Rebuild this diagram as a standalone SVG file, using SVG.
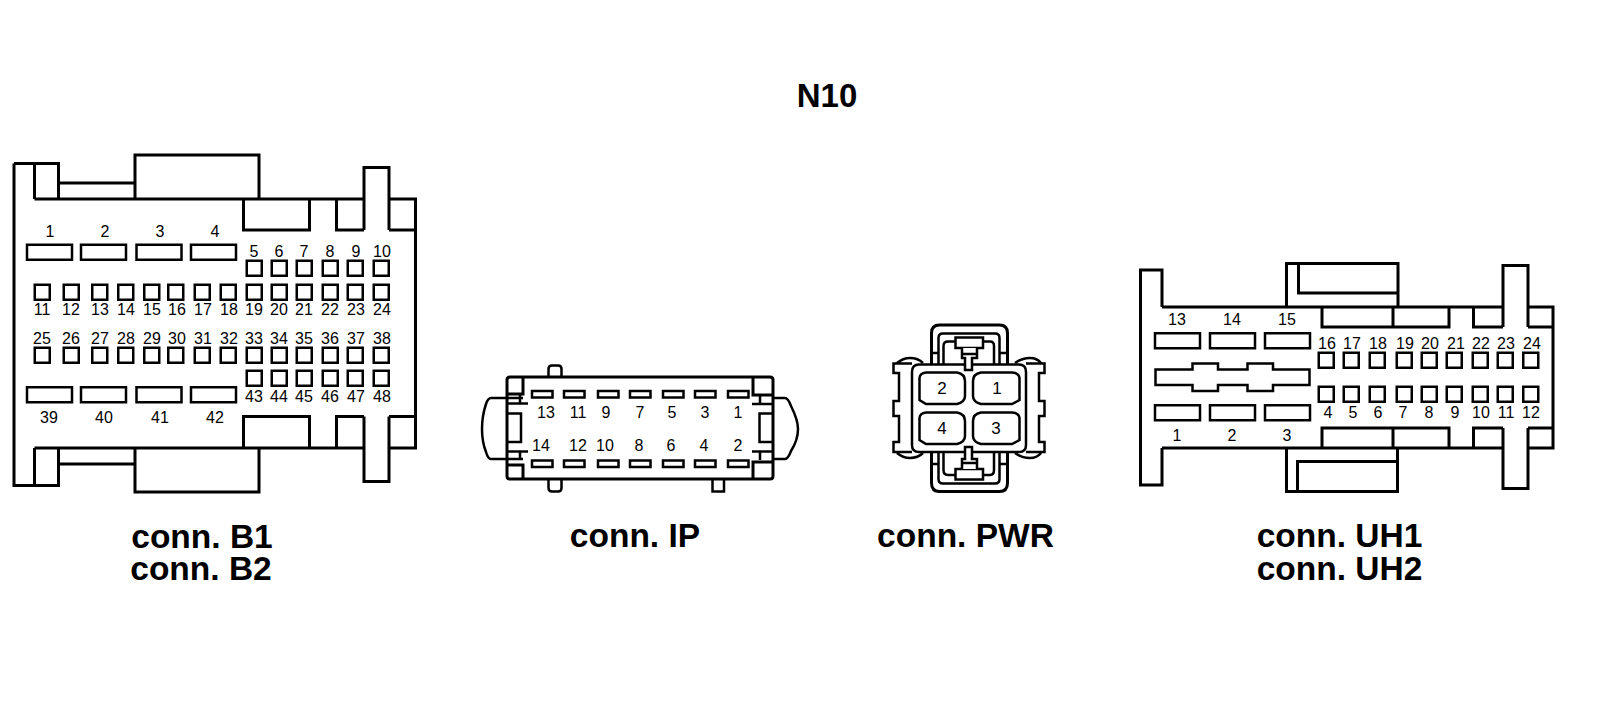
<svg xmlns="http://www.w3.org/2000/svg" width="1600" height="710" viewBox="0 0 1600 710">
<style>
.l{fill:none;stroke:#000;stroke-width:3}
.t{fill:none;stroke:#000;stroke-width:2.5}
.w{fill:#fff;stroke:#000;stroke-width:2.500}
.n{font-family:"Liberation Sans",Arial,sans-serif;font-size:16px;fill:#000;text-anchor:middle}
.c{font-family:"Liberation Sans",Arial,sans-serif;font-size:33.500px;font-weight:bold;fill:#000;text-anchor:middle}
.p{font-family:"Liberation Sans",Arial,sans-serif;font-size:17px;fill:#000;text-anchor:middle}
</style>
<defs>
<rect id="big" x="-0.500" y="-0.250" width="45" height="15" class="w"/>
<rect id="sq" x="-0.750" y="-0.750" width="15" height="15" class="w"/>
<rect id="ip" width="20.500" height="6.500" class="w"/>
</defs>
<rect width="1600" height="710" fill="#fff"/>
<g id="title"><text class="c" x="827" y="107" style="font-size:33px">N10</text></g>

<g id="conn-b">
<path class="l" d="M34.500 199V163.500M14 163.500H58.500V199M14 163.500V485.500H58.500V448M34.500 485.500V448M58.500 183H135M135 199V155H259V199M34.500 199H364M389 199H415.500V448H389M34.500 448H364M243.500 199V230H309.500V199M336.500 199V230H364M389 230H415.500M364 230V167.500H389V230M243.500 448V416.500H309.500V448M336.500 448V416.500H364M389 416.500H415.500M364 416.500V481.500H389V416.500M58.500 464H135M135 448V492H259V448"/>
<use href="#big" x="27.500" y="245"/><use href="#big" x="81.500" y="245"/><use href="#big" x="137" y="245"/><use href="#big" x="191.500" y="245"/>
<use href="#big" x="27.500" y="387.500"/><use href="#big" x="81.500" y="387.500"/><use href="#big" x="137" y="387.500"/><use href="#big" x="191.500" y="387.500"/>
<use href="#sq" x="247.500" y="261.500"/><use href="#sq" x="272.500" y="261.500"/><use href="#sq" x="297.500" y="261.500"/><use href="#sq" x="323.500" y="261.500"/><use href="#sq" x="348.500" y="261.500"/><use href="#sq" x="374.500" y="261.500"/>
<use href="#sq" x="35.500" y="285.500"/><use href="#sq" x="64.500" y="285.500"/><use href="#sq" x="93" y="285.500"/><use href="#sq" x="119" y="285.500"/><use href="#sq" x="145" y="285.500"/><use href="#sq" x="169" y="285.500"/><use href="#sq" x="195.500" y="285.500"/><use href="#sq" x="221.500" y="285.500"/><use href="#sq" x="247.500" y="285.500"/><use href="#sq" x="272.500" y="285.500"/><use href="#sq" x="297.500" y="285.500"/><use href="#sq" x="323.500" y="285.500"/><use href="#sq" x="348.500" y="285.500"/><use href="#sq" x="374.500" y="285.500"/>
<use href="#sq" x="35.500" y="348.500"/><use href="#sq" x="64.500" y="348.500"/><use href="#sq" x="93" y="348.500"/><use href="#sq" x="119" y="348.500"/><use href="#sq" x="145" y="348.500"/><use href="#sq" x="169" y="348.500"/><use href="#sq" x="195.500" y="348.500"/><use href="#sq" x="221.500" y="348.500"/><use href="#sq" x="247.500" y="348.500"/><use href="#sq" x="272.500" y="348.500"/><use href="#sq" x="297.500" y="348.500"/><use href="#sq" x="323.500" y="348.500"/><use href="#sq" x="348.500" y="348.500"/><use href="#sq" x="374.500" y="348.500"/>
<use href="#sq" x="247.500" y="371.500"/><use href="#sq" x="272.500" y="371.500"/><use href="#sq" x="297.500" y="371.500"/><use href="#sq" x="323.500" y="371.500"/><use href="#sq" x="348.500" y="371.500"/><use href="#sq" x="374.500" y="371.500"/>
<text class="n" x="50" y="236.500">1</text><text class="n" x="105" y="236.500">2</text><text class="n" x="160" y="236.500">3</text><text class="n" x="215" y="236.500">4</text>
<text class="n" x="254" y="256.500">5</text><text class="n" x="279" y="256.500">6</text><text class="n" x="304" y="256.500">7</text><text class="n" x="330" y="256.500">8</text><text class="n" x="356" y="256.500">9</text><text class="n" x="382" y="256.500">10</text>
<text class="n" x="42" y="314.500">11</text><text class="n" x="71" y="314.500">12</text><text class="n" x="100" y="314.500">13</text><text class="n" x="126" y="314.500">14</text><text class="n" x="152" y="314.500">15</text><text class="n" x="177" y="314.500">16</text><text class="n" x="203" y="314.500">17</text><text class="n" x="229" y="314.500">18</text><text class="n" x="254" y="314.500">19</text><text class="n" x="279" y="314.500">20</text><text class="n" x="304" y="314.500">21</text><text class="n" x="330" y="314.500">22</text><text class="n" x="356" y="314.500">23</text><text class="n" x="382" y="314.500">24</text>
<text class="n" x="42" y="343.500">25</text><text class="n" x="71" y="343.500">26</text><text class="n" x="100" y="343.500">27</text><text class="n" x="126" y="343.500">28</text><text class="n" x="152" y="343.500">29</text><text class="n" x="177" y="343.500">30</text><text class="n" x="203" y="343.500">31</text><text class="n" x="229" y="343.500">32</text><text class="n" x="254" y="343.500">33</text><text class="n" x="279" y="343.500">34</text><text class="n" x="304" y="343.500">35</text><text class="n" x="330" y="343.500">36</text><text class="n" x="356" y="343.500">37</text><text class="n" x="382" y="343.500">38</text>
<text class="n" x="49" y="422.500">39</text><text class="n" x="104" y="422.500">40</text><text class="n" x="160" y="422.500">41</text><text class="n" x="215" y="422.500">42</text>
<text class="n" x="254" y="401.500">43</text><text class="n" x="279" y="401.500">44</text><text class="n" x="304" y="401.500">45</text><text class="n" x="330" y="401.500">46</text><text class="n" x="356" y="401.500">47</text><text class="n" x="382" y="401.500">48</text>
<text class="c" x="202" y="548">conn. B1</text><text class="c" x="201" y="580">conn. B2</text>
</g>

<g id="conn-ip">
<path class="l" d="M510 377H770Q773 377 773 380V476Q773 479 770 479H510Q507 479 507 476V465H523V479M523 377V394H507V380Q507 377 510 377M507 394V465M753 377V395H773M753 479V462H773"/>
<path class="t" d="M548.500 377V369Q548.500 365.500 552 365.500H558Q561.500 365.500 561.500 369V377M548.500 479V488Q548.500 491.500 552 491.500H558Q561.500 491.500 561.500 488V479M712.500 479V491.500H724V479"/>
<path class="t" d="M507 403.500H528M520 394V403.500M507 413.500H521V442H507M507 451.500H528M520 451.500V459.500M523 398H491Q488 398 486 404Q482 416 482 429Q482 442 486 452Q488 459 491 459H523"/>
<path class="t" d="M752 404H772M760 395V404M773 413.500H759.500V442H773M752 451.500H772M760 451.500V460M773 398H785Q788 398 791 406Q798 420 798 429Q798 440 791 451Q788 459 785 459H773"/>
<use href="#ip" x="532" y="391"/><use href="#ip" x="564" y="391"/><use href="#ip" x="598" y="391"/><use href="#ip" x="630" y="391"/><use href="#ip" x="663" y="391"/><use href="#ip" x="695" y="391"/><use href="#ip" x="728" y="391"/>
<use href="#ip" x="532" y="460.500"/><use href="#ip" x="564" y="460.500"/><use href="#ip" x="598" y="460.500"/><use href="#ip" x="630" y="460.500"/><use href="#ip" x="663" y="460.500"/><use href="#ip" x="695" y="460.500"/><use href="#ip" x="728" y="460.500"/>
<text class="n" x="546" y="418">13</text><text class="n" x="578" y="418">11</text><text class="n" x="606" y="418">9</text><text class="n" x="640" y="418">7</text><text class="n" x="672" y="418">5</text><text class="n" x="705" y="418">3</text><text class="n" x="738" y="418">1</text>
<text class="n" x="541" y="451">14</text><text class="n" x="578" y="451">12</text><text class="n" x="605" y="451">10</text><text class="n" x="639" y="451">8</text><text class="n" x="671" y="451">6</text><text class="n" x="704" y="451">4</text><text class="n" x="738" y="451">2</text>
<text class="c" x="635" y="547">conn. IP</text>
</g>

<g id="conn-pwr">
<path class="l" d="M931.500 365V333Q931.500 325 939.500 325H999.500Q1007.500 325 1007.500 333V365M931.500 452V483Q931.500 491.500 939.500 491.500H999.500Q1007.500 491.500 1007.500 483V452"/>
<path class="t" d="M938.500 365V338Q938.500 333.500 943 333.500H995Q999.500 333.500 999.500 338V365M938.500 452V479Q938.500 483.500 943 483.500H995Q999.500 483.500 999.500 479V452M943.500 365V346Q943.500 341.500 948 341.500H990Q994 341.500 994 346V365M943.500 452V470Q943.500 475 948 475H990Q994 475 994 470V452M931.500 353H938.500M999.500 353H1007.500M931.500 464H938.500M999.500 464H1007.500"/>
<rect class="w" x="955.500" y="337.500" width="27.500" height="10.500"/><rect class="w" x="955.500" y="469" width="27.500" height="10.500"/>
<path class="t" d="M912 445V372Q912 364.500 919 364.500H1019Q1026 364.500 1026 372V445Q1026 452 1019 452H919Q912 452 912 445Z"/>
<path class="w" d="M962 348V358H965V370H972V358H977V348M962 354H977M962 469V459H965V447H972V459H977V469M962 463H977"/>
<path class="t" d="M912 363.500H893.500V373H899V401H893.500V416H899V442H893.500V452H912M1026 363.500H1044.500V373H1039V401H1044.500V416H1039V442H1044.500V452H1026M897 363Q903 358 910 358Q918 358 923 363M1015 363Q1022 358 1030 358Q1037 358 1041 363M897 453Q903 458 910 458Q918 458 923 453M1015 453Q1022 458 1030 458Q1037 458 1041 453"/>
<path class="t" d="M926 372.500H957Q965 374 965 381V396Q965 402 957 404H926L919.500 400V378Q920 373 926 372.500ZM981 372.500H1012Q1019 373 1019.500 378V400L1012 404H981Q973 402 973 396V381Q973 374 981 372.500ZM926 412.500H957Q965 414 965 421V436Q965 442 957 444H926L919.500 440V418Q920 413 926 412.500ZM981 412.500H1012Q1019 413 1019.500 418V440L1012 444H981Q973 442 973 436V421Q973 414 981 412.500Z"/>
<text class="p" x="942" y="394">2</text><text class="p" x="997" y="394">1</text><text class="p" x="942" y="434">4</text><text class="p" x="996" y="434">3</text>
<text class="c" x="965.500" y="547">conn. PWR</text>
</g>

<g id="conn-uh">
<path class="l" d="M1162 307V270H1140.500V485H1162V448M1162 307H1503M1528 307H1553V448H1528M1162 448H1503M1503 327V265.500H1528V327M1503 428V488.500H1528V428M1322 307V327H1449V307M1393 307V327M1473.500 307V327H1503M1528 327H1553M1322 448V428H1449V448M1393 428V448M1473.500 448V428H1503M1528 428H1553M1286.500 307V263.500H1398V307M1298.500 263.500V293H1398M1286.500 448V491.500H1397.500V448M1297.500 491.500V461.500H1397.500"/>
<use href="#big" x="1155.500" y="333.500"/><use href="#big" x="1210.500" y="333.500"/><use href="#big" x="1265.500" y="333.500"/>
<use href="#big" x="1155.500" y="405.500"/><use href="#big" x="1210.500" y="405.500"/><use href="#big" x="1265.500" y="405.500"/>
<path class="w" d="M1155.500 369.500H1192.500V363.500H1218V369.500H1247.500V363.500H1273V369.500H1309.500V385H1273V391H1247.500V385H1218V391H1192.500V385H1155.500Z"/>
<use href="#sq" x="1319.500" y="353.500"/><use href="#sq" x="1344.500" y="353.500"/><use href="#sq" x="1370.500" y="353.500"/><use href="#sq" x="1397.500" y="353.500"/><use href="#sq" x="1422.500" y="353.500"/><use href="#sq" x="1447.500" y="353.500"/><use href="#sq" x="1473.500" y="353.500"/><use href="#sq" x="1498.500" y="353.500"/><use href="#sq" x="1524" y="353.500"/>
<use href="#sq" x="1319.500" y="387.500"/><use href="#sq" x="1344.500" y="387.500"/><use href="#sq" x="1370.500" y="387.500"/><use href="#sq" x="1397.500" y="387.500"/><use href="#sq" x="1422.500" y="387.500"/><use href="#sq" x="1447.500" y="387.500"/><use href="#sq" x="1473.500" y="387.500"/><use href="#sq" x="1498.500" y="387.500"/><use href="#sq" x="1524" y="387.500"/>
<text class="n" x="1177" y="324.500">13</text><text class="n" x="1232" y="324.500">14</text><text class="n" x="1287" y="324.500">15</text>
<text class="n" x="1327" y="348.500">16</text><text class="n" x="1352" y="348.500">17</text><text class="n" x="1378" y="348.500">18</text><text class="n" x="1405" y="348.500">19</text><text class="n" x="1430" y="348.500">20</text><text class="n" x="1456" y="348.500">21</text><text class="n" x="1481" y="348.500">22</text><text class="n" x="1506" y="348.500">23</text><text class="n" x="1532" y="348.500">24</text>
<text class="n" x="1328" y="418">4</text><text class="n" x="1353" y="418">5</text><text class="n" x="1378" y="418">6</text><text class="n" x="1403" y="418">7</text><text class="n" x="1429" y="418">8</text><text class="n" x="1455" y="418">9</text><text class="n" x="1481" y="418">10</text><text class="n" x="1506" y="418">11</text><text class="n" x="1531" y="418">12</text>
<text class="n" x="1177" y="441">1</text><text class="n" x="1232" y="441">2</text><text class="n" x="1287" y="441">3</text>
<text class="c" x="1339.500" y="547">conn. UH1</text><text class="c" x="1339.500" y="580">conn. UH2</text>
</g>
</svg>
